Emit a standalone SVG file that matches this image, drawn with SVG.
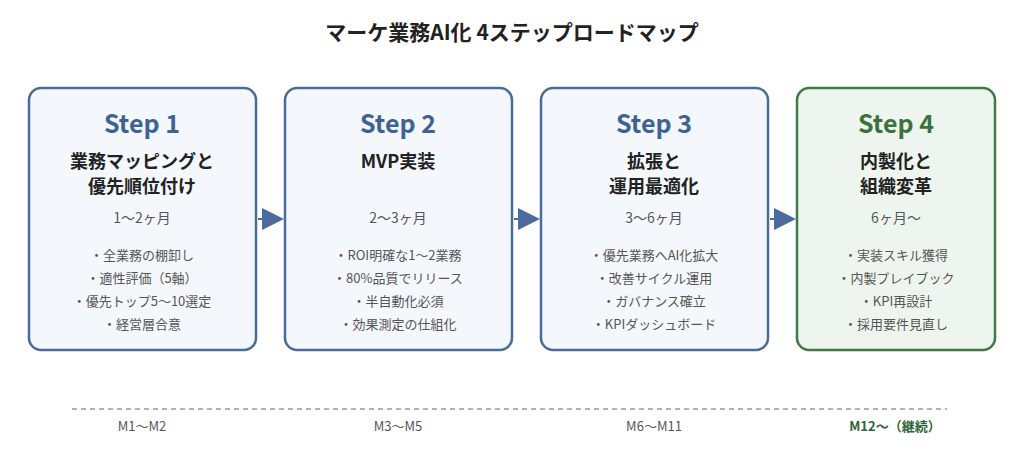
<svg xmlns="http://www.w3.org/2000/svg" width="1024" height="468" viewBox="0 0 1024 468">
<style>
text{font-family:"Noto Sans CJK JP","Noto Sans",sans-serif;text-anchor:middle}
.box{fill:#f4f7fc;stroke:#4a6b9b;stroke-width:2.5}
.box4{fill:#eef5ee;stroke:#3f7a45;stroke-width:2.5}
.step{font-size:25px;font-weight:bold;fill:#3d6394}
.step4{font-size:25px;font-weight:bold;fill:#3a7240}
.ttl{font-size:18px;font-weight:bold;fill:#222}
.per{font-size:14px;fill:#555}
.bl{font-size:13px;fill:#555}
.mo{font-size:13px;fill:#555}
</style>
<rect width="1024" height="468" fill="#fff"/>
<text x="512" y="40" style="font-size:21px;font-weight:bold;fill:#222">マーケ業務AI化 4ステップロードマップ</text>
<g id="step1"><rect class="box" x="29" y="88" width="227" height="262" rx="12"/>
<text class="step" x="142" y="133">Step 1</text>
<text class="ttl" x="142" y="168">業務マッピングと</text><text class="ttl" x="142" y="193">優先順位付け</text>
<text class="per" x="142" y="223">1〜2ヶ月</text>
<text class="bl" x="142" y="260">・全業務の棚卸し</text><text class="bl" x="142" y="283">・適性評価（5軸）</text><text class="bl" x="142" y="306">・優先トップ5〜10選定</text><text class="bl" x="142" y="329">・経営層合意</text></g>
<g id="step2"><rect class="box" x="285" y="88" width="227" height="262" rx="12"/>
<text class="step" x="398" y="133">Step 2</text>
<text class="ttl" x="398" y="168">MVP実装</text>
<text class="per" x="398" y="223">2〜3ヶ月</text>
<text class="bl" x="398" y="260">・ROI明確な1〜2業務</text><text class="bl" x="398" y="283">・80%品質でリリース</text><text class="bl" x="398" y="306">・半自動化必須</text><text class="bl" x="398" y="329">・効果測定の仕組化</text></g>
<g id="step3"><rect class="box" x="541" y="88" width="227" height="262" rx="12"/>
<text class="step" x="654" y="133">Step 3</text>
<text class="ttl" x="654" y="168">拡張と</text><text class="ttl" x="654" y="193">運用最適化</text>
<text class="per" x="654" y="223">3〜6ヶ月</text>
<text class="bl" x="654" y="260">・優先業務へAI化拡大</text><text class="bl" x="654" y="283">・改善サイクル運用</text><text class="bl" x="654" y="306">・ガバナンス確立</text><text class="bl" x="654" y="329">・KPIダッシュボード</text></g>
<g id="step4"><rect class="box4" x="797" y="88" width="198" height="262" rx="12"/>
<text class="step4" x="896" y="133">Step 4</text>
<text class="ttl" x="896" y="168">内製化と</text><text class="ttl" x="896" y="193">組織変革</text>
<text class="per" x="896" y="223">6ヶ月〜</text>
<text class="bl" x="896" y="260">・実装スキル獲得</text><text class="bl" x="896" y="283">・内製プレイブック</text><text class="bl" x="896" y="306">・KPI再設計</text><text class="bl" x="896" y="329">・採用要件見直し</text></g>
<g id="connectors" fill="#4a6b9b" stroke="#4a6b9b">
<line x1="258" y1="219" x2="264" y2="219" stroke-width="2"/><polygon points="262,208 284,219 262,230" stroke="none"/>
<line x1="514" y1="219" x2="520" y2="219" stroke-width="2"/><polygon points="518,208 540,219 518,230" stroke="none"/>
<line x1="770" y1="219" x2="776" y2="219" stroke-width="2"/><polygon points="774,208 796,219 774,230" stroke="none"/>
</g>
<g id="timeline">
<line x1="72" y1="409" x2="947" y2="409" stroke="#999" stroke-width="1.5" stroke-dasharray="5,4"/>
<text class="mo" x="142" y="431">M1〜M2</text><text class="mo" x="398" y="431">M3〜M5</text><text class="mo" x="654" y="431">M6〜M11</text>
<text x="895" y="431" style="font-size:13px;font-weight:bold;fill:#2f6338">M12〜（継続）</text>
</g>
</svg>
